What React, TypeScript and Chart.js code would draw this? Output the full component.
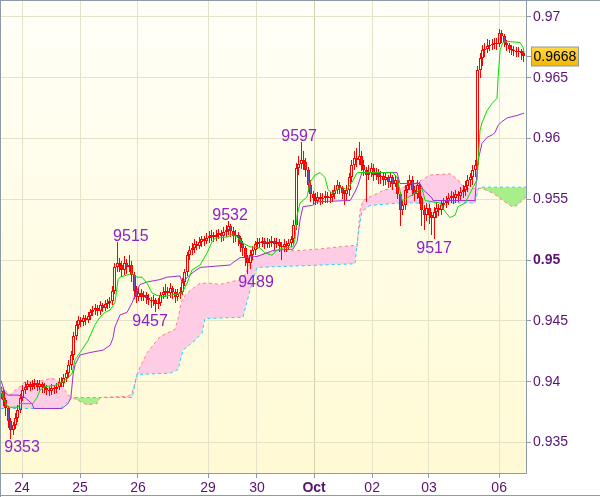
import React, { useEffect, useRef } from 'react';
import { Chart, registerables } from 'chart.js';

Chart.register(...registerables);

const FONT = "'Liberation Sans', Arial, Helvetica, sans-serif";

// ---- Hourly candles (prices in pips, 0.0001) ----
const firstOpen = 9390;
const closes = [
  9392, 9385, 9378, 9368, 9360, 9364, 9370, 9377, 9387, 9393,
  9396, 9398, 9396, 9397, 9399, 9396, 9398, 9396, 9395, 9393,
  9392, 9395, 9394, 9396, 9400, 9399, 9403, 9407, 9414, 9422,
  9438, 9447, 9451, 9449, 9452, 9451, 9454, 9457, 9459, 9461,
  9458, 9463, 9461, 9464, 9465, 9466, 9475, 9494, 9498, 9496,
  9492, 9498, 9494, 9496, 9488, 9475, 9470, 9473, 9470, 9471,
  9469, 9467, 9466, 9467, 9464, 9465, 9471, 9474, 9475, 9473,
  9477, 9474, 9470, 9472, 9474, 9482, 9490, 9504, 9508, 9510,
  9513, 9512, 9515, 9517, 9516, 9518, 9520, 9521, 9519, 9521,
  9522, 9520, 9523, 9525, 9528, 9524, 9520, 9521, 9518, 9513,
  9510, 9502, 9498, 9504, 9508, 9513, 9515, 9514, 9516, 9513,
  9515, 9514, 9516, 9513, 9515, 9512, 9511, 9513, 9512, 9514,
  9517, 9529, 9576, 9579, 9582, 9581, 9574, 9562, 9554, 9551,
  9549, 9552, 9550, 9551, 9553, 9551, 9552, 9554, 9558, 9562,
  9559, 9555, 9554, 9558, 9568, 9578, 9584, 9582, 9586, 9578,
  9574, 9570, 9572, 9576, 9570, 9572, 9568, 9569, 9566, 9568,
  9564, 9568, 9563, 9566, 9554, 9541, 9545, 9558, 9562, 9566,
  9558, 9554, 9562, 9551, 9541, 9537, 9543, 9537, 9535, 9540,
  9543, 9541, 9545, 9547, 9549, 9551, 9553, 9551, 9554, 9553,
  9556, 9558, 9561, 9566, 9568, 9574, 9578, 9656, 9666, 9673,
  9674, 9676, 9677, 9678, 9679, 9678, 9687, 9684, 9679, 9677,
  9674, 9673, 9672, 9671, 9672, 9670, 9668,
];
const highs = [
  9396, 9394, 9387, 9380, 9370, 9367, 9374, 9381, 9390, 9397,
  9400, 9401, 9400, 9401, 9402, 9401, 9401, 9400, 9399, 9397,
  9396, 9398, 9397, 9399, 9403, 9404, 9406, 9410, 9418, 9425,
  9441, 9450, 9454, 9453, 9455, 9455, 9457, 9460, 9462, 9464,
  9463, 9466, 9465, 9467, 9468, 9470, 9479, 9498, 9515, 9502,
  9499, 9503, 9501, 9504, 9499, 9490, 9479, 9477, 9476, 9475,
  9474, 9472, 9470, 9471, 9469, 9469, 9474, 9478, 9480, 9478,
  9481, 9479, 9476, 9476, 9478, 9485, 9493, 9507, 9512, 9514,
  9517, 9516, 9519, 9520, 9520, 9522, 9524, 9525, 9523, 9525,
  9526, 9525, 9527, 9529, 9532, 9530, 9527, 9525, 9523, 9520,
  9516, 9512, 9504, 9508, 9512, 9516, 9518, 9518, 9519, 9518,
  9518, 9517, 9520, 9518, 9518, 9517, 9515, 9517, 9516, 9517,
  9520, 9533, 9580, 9586, 9597, 9590, 9584, 9577, 9566, 9557,
  9555, 9556, 9555, 9555, 9557, 9556, 9556, 9558, 9562, 9566,
  9564, 9561, 9558, 9562, 9572, 9582, 9590, 9592, 9597, 9590,
  9582, 9577, 9578, 9580, 9579, 9576, 9575, 9573, 9572, 9572,
  9570, 9572, 9570, 9570, 9568, 9556, 9549, 9562, 9566, 9570,
  9569, 9561, 9566, 9564, 9553, 9545, 9547, 9546, 9540, 9544,
  9547, 9546, 9549, 9551, 9553, 9555, 9557, 9556, 9558, 9557,
  9560, 9562, 9565, 9570, 9572, 9578, 9582, 9660, 9670, 9677,
  9679, 9682, 9681, 9682, 9683, 9683, 9690, 9689, 9686, 9681,
  9679, 9677, 9676, 9675, 9675, 9674, 9672,
];
const lows = [
  9386, 9380, 9372, 9362, 9353, 9356, 9361, 9367, 9374, 9384,
  9390, 9393, 9392, 9393, 9394, 9392, 9393, 9391, 9391, 9389,
  9388, 9389, 9390, 9391, 9393, 9396, 9396, 9400, 9404, 9410,
  9418, 9434, 9443, 9445, 9446, 9447, 9448, 9451, 9454, 9455,
  9454, 9455, 9457, 9458, 9460, 9461, 9463, 9472, 9490, 9490,
  9486, 9488, 9489, 9490, 9482, 9468, 9465, 9466, 9466, 9466,
  9464, 9463, 9461, 9462, 9457, 9460, 9462, 9468, 9470, 9468,
  9469, 9468, 9465, 9466, 9468, 9471, 9479, 9487, 9500, 9504,
  9506, 9508, 9509, 9511, 9512, 9513, 9514, 9516, 9515, 9516,
  9517, 9515, 9516, 9519, 9521, 9519, 9514, 9515, 9512, 9507,
  9503, 9495, 9489, 9493, 9500, 9504, 9509, 9510, 9511, 9509,
  9510, 9510, 9511, 9508, 9510, 9507, 9500, 9507, 9507, 9509,
  9511, 9513, 9525, 9570, 9575, 9574, 9568, 9556, 9548, 9546,
  9545, 9546, 9545, 9546, 9547, 9547, 9547, 9548, 9550, 9554,
  9554, 9550, 9545, 9549, 9553, 9564, 9574, 9577, 9578, 9573,
  9569, 9548, 9566, 9568, 9565, 9566, 9563, 9563, 9561, 9562,
  9559, 9560, 9558, 9560, 9550, 9528, 9537, 9541, 9555, 9558,
  9553, 9549, 9550, 9546, 9528, 9525, 9532, 9530, 9521, 9517,
  9535, 9536, 9537, 9541, 9543, 9545, 9547, 9546, 9547, 9548,
  9549, 9551, 9553, 9556, 9560, 9562, 9568, 9572, 9650, 9660,
  9667, 9670, 9672, 9673, 9674, 9673, 9675, 9679, 9675, 9672,
  9670, 9669, 9668, 9667, 9667, 9665, 9663,
];

// ---- Ichimoku lines (x in hours from chart start, y in pips) ----
const tenkanHours = [0, 0.8, 2.9, 7.0, 7.9, 13.2, 14.9, 16.1, 18.2, 22.3, 25.6, 27.7, 29.4, 30.6, 32.7, 36.0, 38.9, 40.9, 43.0, 45.1, 47.1, 48.4, 49.2, 52.5, 54.2, 56.2, 58.3, 60.4, 62.4, 64.5, 67.0, 69.9, 74.8, 76.9, 79.0, 82.3, 85.2, 87.2, 88.5, 93.4, 95.5, 97.6, 100.0, 102.9, 107.1, 109.1, 112.0, 114.1, 116.6, 120.7, 121.5, 122.4, 123.6, 126.5, 127.7, 129.8, 131.9, 133.9, 135.2, 136.8, 138.9, 141.0, 143.0, 145.1, 147.2, 149.2, 156.7, 162.0, 163.7, 165.8, 167.8, 171.1, 174.0, 175.3, 178.6, 181.5, 183.5, 185.6, 187.7, 188.9, 191.8, 193.1, 195.1, 196.8, 198.0, 198.8, 200.9, 203.0, 205.0, 205.5, 206.3, 207.5, 209.2, 214.5, 215.8, 216.2];
const tenkanPips = [9395, 9387, 9379, 9379, 9382, 9382, 9387, 9393, 9396, 9397, 9400, 9403, 9407, 9418, 9424, 9434, 9447, 9453, 9457, 9459, 9465, 9484, 9486, 9488, 9489, 9486, 9486, 9481, 9473, 9471, 9470, 9471, 9473, 9481, 9492, 9496, 9506, 9515, 9518, 9519, 9521, 9519, 9514, 9511, 9510, 9506, 9504, 9508, 9510, 9511, 9517, 9537, 9547, 9552, 9564, 9570, 9572, 9568, 9558, 9555, 9558, 9560, 9558, 9564, 9572, 9572, 9572, 9572, 9568, 9549, 9551, 9555, 9559, 9549, 9548, 9547, 9540, 9535, 9537, 9544, 9547, 9552, 9560, 9566, 9607, 9613, 9623, 9629, 9633, 9651, 9673, 9679, 9680, 9679, 9675, 9671];

const kijunHours = [0, 1.65, 2.9, 7.0, 9.9, 12.8, 13.6, 25.2, 27.7, 28.9, 29.8, 30.6, 32.7, 36.8, 42.2, 45.1, 46.3, 47.1, 49.2, 52.1, 54.2, 56.2, 57.5, 60.4, 65.7, 68.6, 74.0, 74.8, 76.1, 78.1, 79.4, 82.3, 94.7, 95.9, 98.8, 105.8, 107.1, 111.2, 112.4, 120.7, 122.4, 123.6, 124.8, 128.6, 130.6, 143.0, 144.3, 146.3, 147.6, 149.2, 163.7, 164.9, 173.2, 174.5, 178.2, 178.6, 195.9, 196.8, 197.2, 198.8, 200.9, 203.0, 204.2, 205.5, 207.1, 209.2, 211.2, 213.3, 216.2];
const kijunPips = [9401, 9391, 9389, 9389, 9387, 9382, 9378, 9378, 9382, 9387, 9406, 9414, 9422, 9424, 9426, 9430, 9436, 9445, 9455, 9457, 9465, 9475, 9480, 9482, 9484, 9486, 9487, 9482, 9484, 9488, 9490, 9494, 9496, 9498, 9502, 9503, 9504, 9507, 9508, 9509, 9515, 9533, 9544, 9545, 9548, 9549, 9549, 9556, 9562, 9572, 9572, 9563, 9563, 9558, 9551, 9549, 9549, 9574, 9582, 9596, 9601, 9603, 9605, 9611, 9614, 9617, 9618, 9619, 9621];

const spanAHours = [0, 3.7, 5.8, 8.7, 9.9, 18.2, 20.3, 22.3, 24.4, 26.5, 27.7, 29.4, 31.4, 35.6, 39.7, 40.9, 52.5, 54.2, 55.4, 56.2, 57.5, 60.4, 63.7, 65.7, 68.6, 71.9, 73.2, 74.4, 76.1, 78.1, 82.3, 86.4, 90.5, 94.7, 98.8, 100.9, 102.9, 105.8, 112.4, 123.6, 130.6, 140.1, 145.5, 147.2, 148.4, 149.6, 152.5, 158.7, 164.9, 171.1, 174.0, 177.3, 185.6, 187.7, 189.8, 191.8, 197.2, 198.8, 203.4, 207.5, 211.2, 213.3, 215.4, 217];
const spanAPips = [9396, 9389, 9393, 9397, 9400, 9401, 9403, 9402, 9399, 9393, 9389, 9387, 9385, 9381, 9382, 9387, 9388, 9391, 9399, 9406, 9412, 9424, 9432, 9437, 9440, 9443, 9452, 9465, 9471, 9475, 9481, 9481, 9480, 9482, 9484, 9488, 9498, 9503, 9507, 9508, 9509, 9511, 9512, 9511, 9541, 9549, 9552, 9558, 9559, 9563, 9566, 9570, 9571, 9568, 9564, 9559, 9559, 9559, 9555, 9549, 9544, 9545, 9549, 9552];

const spanBHours = [0, 24.4, 27.3, 29.4, 52.5, 54.2, 56.2, 69.9, 73.2, 75.2, 80.2, 83.1, 84.3, 100.0, 102.9, 105.8, 146.3, 147.6, 149.2, 152.5, 164.9, 195.9, 197.2, 198.0, 217];
const spanBPips = [9378, 9378, 9383, 9387, 9387, 9387, 9406, 9407, 9410, 9426, 9434, 9440, 9452, 9453, 9475, 9494, 9497, 9521, 9540, 9545, 9547, 9547, 9558, 9560, 9560];

// ---- Swing labels ----
const extremaHours = [8.7, 53.7, 61.6, 94.7, 105.4, 123.2, 179.0];
const extremaPips = [9353, 9515, 9457, 9532, 9489, 9597, 9517];
const extremaIsHigh = [false, true, false, true, false, true, false];

// ---- Axes ----
const dayTickHours = [8.7, 32.7, 56.6, 85.6, 105.8, 129.4, 153.4, 176.9, 205.9];
const dayTickLabels = ['24', '25', '26', '29', '30', 'Oct', '02', '03', '06'];
const boldDayIndex = 5;
const priceTicks = [0.935, 0.94, 0.945, 0.95, 0.955, 0.96, 0.965, 0.97];
const priceTickLabels = ['0.935', '0.94', '0.945', '0.95', '0.955', '0.96', '0.965', '0.97'];
const boldPriceIndex = 3;

const X_MIN = 0;
const X_MAX = 217;
const Y_MIN = 0.932491;
const Y_MAX = 0.971316;

const RED = '#ff0000';
const DOWN_FILL = '#7050b0';
const TENKAN = '#00e000';
const KIJUN = '#9b30d0';
const SPAN_A = '#ff7f7f';
const SPAN_B = '#22d4ff';
const PINK = '#ffcce5';
const GREEN = '#a8ee8a';
const AXIS = '#8c9ba6';
const GRID = '#e4e3c8';
const GRID_BOLD = '#d2d1b0';
const TICK_TEXT = '#5a1272';
const SWING_TEXT = '#8b22cc';

export default function App() {
  const ref = useRef<HTMLCanvasElement>(null);

  useEffect(() => {
    document.body.style.margin = '0';
    const canvas = ref.current;
    if (!canvas) return;
    const P = (v: number) => v / 10000;
    const opens = closes.map((c, i) => (i === 0 ? firstOpen : closes[i - 1]));
    const bodies = closes.map((c, i) => ({ x: i, y: [P(opens[i]), P(c)] }));
    const upper = closes.map((c, i) => ({ x: i, y: [P(Math.max(opens[i], c)), P(highs[i])] }));
    const lower = closes.map((c, i) => ({ x: i, y: [P(lows[i]), P(Math.min(opens[i], c))] }));
    const bodyFill = closes.map((c, i) => (c < opens[i] ? DOWN_FILL : 'rgba(0,0,0,0)'));
    const pts = (hs: number[], ps: number[]) => hs.map((h, i) => ({ x: h, y: P(ps[i]) }));
    const lastClose = P(closes[closes.length - 1]);

    const decor = {
      id: 'decor',
      beforeDraw(chart: any) {
        const { ctx, chartArea: a, width, height } = chart;
        ctx.save();
        ctx.fillStyle = '#ffffff';
        ctx.fillRect(0, 0, width, height);
        const g = ctx.createLinearGradient(0, a.top, 0, a.bottom);
        g.addColorStop(0, '#fffff8');
        g.addColorStop(1, '#fffad4');
        ctx.fillStyle = g;
        ctx.fillRect(a.left, a.top, a.right - a.left, a.bottom - a.top);
        ctx.restore();
      },
      beforeDatasetsDraw(chart: any) {
        // snap candle elements to whole pixels so they render crisp
        chart.data.datasets.forEach((ds: any, di: number) => {
          if (ds.type !== 'bar') return;
          chart.getDatasetMeta(di).data.forEach((el: any) => {
            el.x = Math.floor(el.x) + 0.5;
            let y = Math.round(el.y);
            let b = Math.round(el.base);
            if (y === b) b = y + 1;
            el.y = y;
            el.base = b;
          });
        });
      },
      afterDatasetsDraw(chart: any) {
        const { ctx } = chart;
        const xs = chart.scales.x;
        const ys = chart.scales.y;
        ctx.save();
        ctx.font = `16px ${FONT}`;
        ctx.fillStyle = SWING_TEXT;
        ctx.textAlign = 'center';
        ctx.textBaseline = 'alphabetic';
        extremaPips.forEach((p, i) => {
          const x = xs.getPixelForValue(extremaHours[i]);
          const y = ys.getPixelForValue(P(p));
          ctx.fillText(String(p), x, extremaIsHigh[i] ? y - 1 : y + 13.5);
        });
        ctx.restore();
      },
      afterDraw(chart: any) {
        const { ctx, chartArea: a, width, height } = chart;
        const ys = chart.scales.y;
        ctx.save();
        ctx.strokeStyle = AXIS;
        ctx.lineWidth = 1;
        ctx.beginPath();
        ctx.moveTo(0, 0.5); ctx.lineTo(width, 0.5);
        ctx.moveTo(0.5, 0); ctx.lineTo(0.5, height);
        ctx.moveTo(0, height - 1.5); ctx.lineTo(width, height - 1.5);
        ctx.stroke();
        // current price marker
        const y = Math.round(ys.getPixelForValue(lastClose)) + 0.5;
        ctx.beginPath();
        ctx.moveTo(a.right, y); ctx.lineTo(a.right + 5, y);
        ctx.stroke();
        const bx = a.right + 5.5, bw = 47, bh = 19, by = y - 9.5;
        const g = ctx.createLinearGradient(0, by, 0, by + bh);
        g.addColorStop(0, '#ffd94a');
        g.addColorStop(1, '#f2b700');
        ctx.fillStyle = g;
        ctx.fillRect(bx, by, bw, bh);
        ctx.strokeRect(bx, by, bw, bh);
        ctx.fillStyle = '#000000';
        ctx.font = `14px ${FONT}`;
        ctx.textAlign = 'left';
        ctx.textBaseline = 'middle';
        ctx.fillText(lastClose.toFixed(4), bx + 2, y + 0.5);
        ctx.restore();
      },
    };

    const zeroPad = (s: any) => {
      s.paddingTop = 0;
      s.paddingBottom = 0;
      s.paddingLeft = 0;
      s.paddingRight = 0;
    };

    const chart = new Chart(canvas, {
      type: 'line',
      data: {
        datasets: [
          { type: 'line', data: pts(tenkanHours, tenkanPips), borderColor: TENKAN, borderWidth: 1, pointRadius: 0, fill: false },
          { type: 'line', data: pts(kijunHours, kijunPips), borderColor: KIJUN, borderWidth: 1, pointRadius: 0, fill: false },
          { type: 'bar', data: bodies as any, backgroundColor: bodyFill, borderColor: RED, borderWidth: 1, borderSkipped: false, barThickness: 3, grouped: false, inflateAmount: 0 } as any,
          { type: 'bar', data: upper as any, backgroundColor: RED, borderWidth: 0, barThickness: 1, grouped: false, inflateAmount: 0 } as any,
          { type: 'bar', data: lower as any, backgroundColor: RED, borderWidth: 0, barThickness: 1, grouped: false, inflateAmount: 0 } as any,
          { type: 'line', data: pts(spanBHours, spanBPips), borderColor: SPAN_B, borderWidth: 1, borderDash: [3, 3], pointRadius: 0, fill: false },
          { type: 'line', data: pts(spanAHours, spanAPips), borderColor: SPAN_A, borderWidth: 1, borderDash: [3, 3], pointRadius: 0, fill: { target: 5, above: PINK, below: GREEN } },
        ],
      },
      options: {
        responsive: false,
        animation: false,
        devicePixelRatio: 1,
        events: [],
        layout: { padding: { top: 1, left: 1, right: 0, bottom: 0 } },
        plugins: { legend: { display: false }, tooltip: { enabled: false } },
        scales: {
          x: {
            type: 'linear',
            min: X_MIN,
            max: X_MAX,
            offset: false,
            afterBuildTicks: (s: any) => { s.ticks = dayTickHours.map((v) => ({ value: v })); },
            afterFit: (s: any) => { s.height = 24; zeroPad(s); },
            grid: {
              offset: false,
              color: (c: any) => (c.index === boldDayIndex ? GRID_BOLD : GRID),
              tickColor: AXIS,
              tickLength: 5,
            },
            border: { color: AXIS, width: 1 },
            ticks: {
              autoSkip: false,
              maxRotation: 0,
              padding: 2,
              color: TICK_TEXT,
              font: (c: any) => ({ family: FONT, size: 14, weight: c.index === boldDayIndex ? 'bold' : 'normal' }),
              callback: (_v: any, i: number) => dayTickLabels[i],
            },
          },
          y: {
            type: 'linear',
            position: 'right',
            min: Y_MIN,
            max: Y_MAX,
            afterBuildTicks: (s: any) => { s.ticks = priceTicks.map((v) => ({ value: v })); },
            afterFit: (s: any) => { s.width = 74; zeroPad(s); },
            grid: { offset: false, color: GRID, tickColor: AXIS, tickLength: 5 },
            border: { color: AXIS, width: 1 },
            ticks: {
              padding: 2,
              color: TICK_TEXT,
              font: (c: any) => ({ family: FONT, size: 14, weight: c.index === boldPriceIndex ? 'bold' : 'normal' }),
              callback: (_v: any, i: number) => priceTickLabels[i],
            },
          },
        },
      } as any,
      plugins: [decor],
    });
    return () => chart.destroy();
  }, []);

  return <canvas ref={ref} width={600} height={497} style={{ display: 'block' }} />;
}
